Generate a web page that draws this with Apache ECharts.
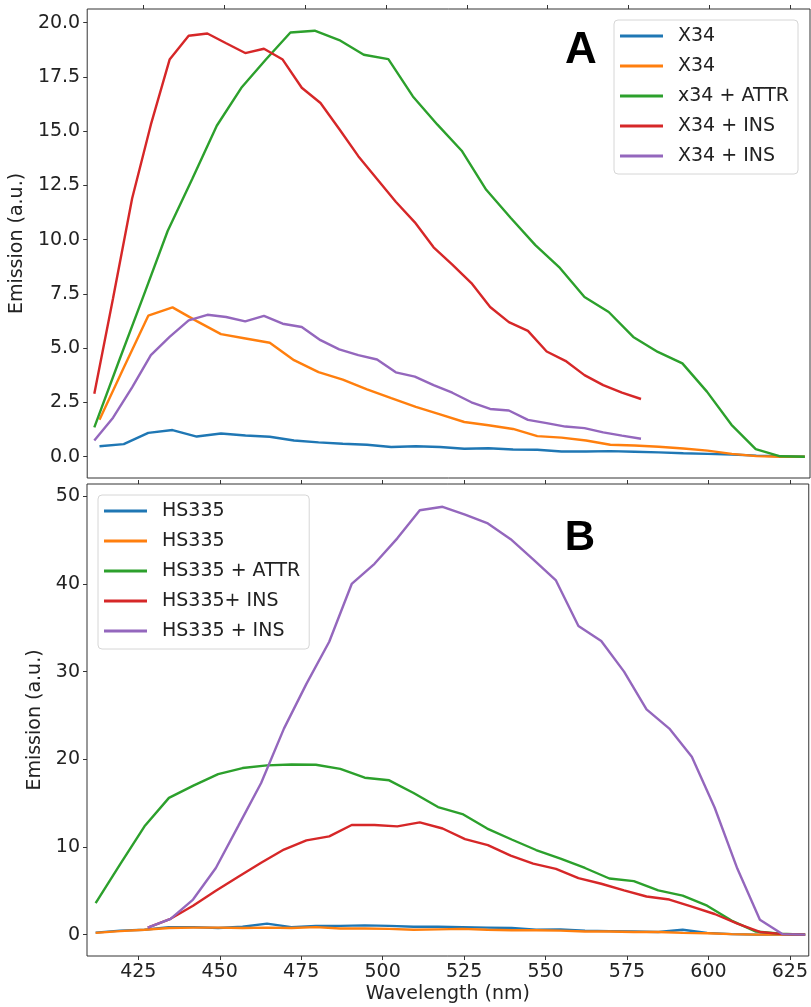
<!DOCTYPE html>
<html lang="en">
<head>
    <meta charset="UTF-8">
    <title>emission spectra</title>
    <style>html, body {margin: 0; padding: 0; background: #fff;}</style>
</head>
<body>
<div id="chart" style="width: 811px;height: 1007px"></div>
<script src="https://cdn.jsdelivr.net/npm/echarts@6/dist/echarts.min.js"></script>
<script>
    // ---- panel A (X34) ----
    const topWlA = [411.3, 418.8, 426.4, 433.9, 441.4, 448.9, 456.5, 464.0, 471.5, 479.1, 486.6, 494.1, 501.6, 509.2, 516.7,
        524.2, 531.7, 539.3, 546.8, 554.3, 561.9, 569.4, 576.9, 584.4, 592.0, 599.5, 607.0, 614.6, 622.1, 629.6]
    const topWlB = [409.7, 417.3, 424.9, 432.4, 440.0, 447.6, 455.2, 462.8, 470.4, 477.9, 485.5, 493.1, 500.7, 508.3, 515.9,
        523.4, 531.0, 538.6, 546.2, 553.8, 561.4, 568.9, 576.5, 584.1, 591.7, 599.3, 606.9, 614.4, 622.0, 629.6]
    const topWlC = [409.7, 415.5, 421.4, 427.2, 433.0, 438.9, 444.7, 450.5, 456.4, 462.2, 468.0, 473.9, 479.7, 485.5, 491.4,
        497.2, 503.0, 508.9, 514.7, 520.5, 526.4, 532.2, 538.0, 543.9, 549.7, 555.5, 561.4, 567.2, 573.0, 578.9]

    const x34Blue = [0.48, 0.58, 1.1, 1.23, 0.93, 1.07, 0.98, 0.92, 0.75, 0.66, 0.6, 0.55, 0.45, 0.48, 0.45,
        0.37, 0.39, 0.33, 0.32, 0.24, 0.24, 0.26, 0.23, 0.2, 0.16, 0.13, 0.1, 0.05, 0.02, 0]
    const x34Orange = [1.7, 4.1, 6.5, 6.88, 6.25, 5.65, 5.45, 5.25, 4.45, 3.9, 3.55, 3.1, 2.7, 2.3, 1.95,
        1.6, 1.45, 1.28, 0.95, 0.88, 0.75, 0.55, 0.52, 0.46, 0.38, 0.28, 0.13, 0.03, 0, 0]
    const x34Attr = [1.35, 4.4, 7.4, 10.4, 12.8, 15.25, 17.0, 18.3, 19.55, 19.63, 19.2, 18.52, 18.32, 16.6, 15.3,
        14.1, 12.3, 11.0, 9.75, 8.7, 7.36, 6.67, 5.52, 4.83, 4.3, 3.0, 1.47, 0.35, 0.02, 0]
    const x34InsRed = [2.9, 7.3, 11.9, 15.3, 18.3, 19.4, 19.5, 19.05, 18.6, 18.8, 18.3, 17.0, 16.3, 15.1, 13.85,
        12.8, 11.75, 10.8, 9.65, 8.85, 8.0, 6.9, 6.2, 5.8, 4.85, 4.42, 3.76, 3.3, 2.95, 2.66]
    const x34InsPurple = [0.75, 1.8, 3.2, 4.68, 5.52, 6.28, 6.54, 6.44, 6.24, 6.49, 6.13, 5.98, 5.37, 4.95, 4.68,
        4.48, 3.89, 3.69, 3.3, 2.95, 2.51, 2.2, 2.13, 1.7, 1.55, 1.39, 1.32, 1.12, 0.97, 0.83]

    // ---- panel B (HS335) ----
    const botWlA = [411.9, 419.4, 426.9, 434.4, 441.9, 449.5, 457.0, 464.5, 472.0, 479.5, 487.0, 494.5, 502.0, 509.5, 517.0,
        524.5, 532.1, 539.6, 547.1, 554.6, 562.1, 569.6, 577.1, 584.6, 592.1, 599.6, 607.1, 614.6, 622.2, 629.7]
    const botWlB = [427.9, 434.9, 441.8, 448.8, 455.7, 462.7, 469.7, 476.6, 483.6, 490.5, 497.5, 504.5, 511.4, 518.4, 525.3,
        532.3, 539.3, 546.2, 553.2, 560.1, 567.1, 574.1, 581.0, 588.0, 594.9, 601.9, 608.9, 615.8, 622.8, 629.7]

    const hsBlue = [0.23, 0.45, 0.55, 0.85, 0.85, 0.75, 0.9, 1.25, 0.85, 1.0, 1.0, 1.05, 1.0, 0.9, 0.9,
        0.85, 0.8, 0.75, 0.55, 0.6, 0.45, 0.4, 0.35, 0.3, 0.55, 0.2, 0.05, 0, 0, 0]
    const hsOrange = [0.2, 0.4, 0.55, 0.75, 0.8, 0.8, 0.75, 0.8, 0.75, 0.85, 0.7, 0.7, 0.65, 0.55, 0.6,
        0.65, 0.55, 0.5, 0.5, 0.45, 0.35, 0.35, 0.3, 0.3, 0.2, 0.15, 0.05, 0, 0, 0]
    const hsAttr = [3.6, 8.0, 12.35, 15.6, 17.0, 18.3, 19.0, 19.3, 19.4, 19.38, 18.9, 17.9, 17.6, 16.15, 14.55,
        13.75, 12.1, 10.85, 9.65, 8.67, 7.6, 6.4, 6.1, 5.05, 4.45, 3.3, 1.6, 0.35, 0.1, 0]
    const hsInsRed = [0.8, 1.8, 3.3, 5.0, 6.6, 8.2, 9.7, 10.75, 11.2, 12.5, 12.5, 12.35, 12.8, 12.1, 10.9,
        10.2, 9.0, 8.1, 7.5, 6.45, 5.8, 5.05, 4.35, 4.0, 3.2, 2.35, 1.25, 0.3, 0.05, 0]
    const hsInsPurple = [0.8, 1.8, 4.0, 7.6, 12.4, 17.3, 23.5, 28.6, 33.4, 40.0, 42.3, 45.2, 48.4, 48.8, 47.9,
        46.9, 45.1, 42.8, 40.4, 35.2, 33.5, 30.0, 25.7, 23.5, 20.3, 14.5, 7.5, 1.7, 0.05, 0]

    const topLabels = ['X34', 'X34', 'x34 + ATTR', 'X34 + INS', 'X34 + INS']
    const botLabels = ['HS335', 'HS335', 'HS335 + ATTR', 'HS335+ INS', 'HS335 + INS']

    const xTicks = [425, 450, 475, 500, 525, 550, 575, 600, 625]
    const yTicksTop = [0, 2.5, 5, 7.5, 10, 12.5, 15, 17.5, 20]
    const yTicksBot = [0, 10, 20, 30, 40, 50]

    const colors = ['#1f77b4', '#ff7f0e', '#2ca02c', '#d62728', '#9467bd']
    const font = 'DejaVu Sans'
    const frame = '#333'
    const textColor = '#222'

    const pairs = (xs, ys) => ys.map((y, i) => [xs[i], y])

    const topData = [pairs(topWlA, x34Blue), pairs(topWlA, x34Orange), pairs(topWlB, x34Attr),
        pairs(topWlC, x34InsRed), pairs(topWlC, x34InsPurple)]
    const botData = [pairs(botWlA, hsBlue), pairs(botWlA, hsOrange), pairs(botWlA, hsAttr),
        pairs(botWlB, hsInsRed), pairs(botWlB, hsInsPurple)]

    // legend needs unique names, real text comes from the label lists
    const nameMap = {}
    const series = []
    topData.forEach((d, i) => {
        nameMap['a' + i] = topLabels[i]
        series.push({
            name: 'a' + i, type: 'line', xAxisIndex: 0, yAxisIndex: 0, data: d,
            symbol: 'none', color: colors[i], lineStyle: {width: 2.4, color: colors[i]}
        })
    })
    botData.forEach((d, i) => {
        nameMap['b' + i] = botLabels[i]
        series.push({
            name: 'b' + i, type: 'line', xAxisIndex: 1, yAxisIndex: 1, data: d,
            symbol: 'none', color: colors[i], lineStyle: {width: 2.4, color: colors[i]}
        })
    })

    const tickStyle = {color: frame, width: 1}
    const noLine = {show: false, onZero: false}
    const legendBase = {
        orient: 'vertical',
        icon: 'rect',
        itemWidth: 43,
        itemHeight: 3,
        itemGap: 10,
        backgroundColor: 'rgba(255,255,255,0.85)',
        borderColor: '#d6d6d6',
        borderWidth: 1,
        borderRadius: 4,
        textStyle: {fontFamily: font, fontSize: 19, color: textColor, lineHeight: 20, padding: [0, 0, 0, 10]},
        formatter: n => nameMap[n]
    }

    const chart = echarts.init(document.getElementById('chart'))
    chart.setOption({
        animation: false,
        backgroundColor: '#fff',
        grid: [
            {left: 86, top: 9, width: 724, height: 469, show: true, borderColor: frame, borderWidth: 1},
            {left: 87, top: 484, width: 722, height: 472, show: true, borderColor: frame, borderWidth: 1}
        ],
        xAxis: [
            {
                gridIndex: 0, type: 'value', position: 'top', min: 407.5, max: 631.2,
                axisLine: noLine, splitLine: {show: false},
                axisTick: {show: true, length: 4, customValues: xTicks, lineStyle: tickStyle},
                axisLabel: {show: false}
            },
            {
                gridIndex: 1, type: 'value', position: 'bottom', min: 409.25, max: 630.8,
                axisLine: noLine, splitLine: {show: false},
                axisTick: {show: true, length: 4, customValues: xTicks, lineStyle: tickStyle},
                axisLabel: {customValues: xTicks, fontFamily: font, fontSize: 19, color: textColor, margin: 7},
                name: 'Wavelength (nm)', nameLocation: 'middle', nameGap: 29,
                nameTextStyle: {fontFamily: font, fontSize: 19, color: textColor}
            },
            {
                gridIndex: 1, type: 'value', position: 'top', min: 409.25, max: 630.8,
                axisLine: noLine, splitLine: {show: false},
                axisTick: {show: true, length: 4, customValues: xTicks, lineStyle: tickStyle},
                axisLabel: {show: false}
            }
        ],
        yAxis: [
            {
                gridIndex: 0, type: 'value', min: -0.98, max: 20.63,
                axisLine: noLine, splitLine: {show: false},
                axisTick: {show: true, length: 4, customValues: yTicksTop, lineStyle: tickStyle},
                axisLabel: {
                    customValues: yTicksTop, fontFamily: font, fontSize: 19, color: textColor, margin: 7,
                    formatter: v => v.toFixed(1)
                },
                name: 'Emission (a.u.)', nameLocation: 'middle', nameGap: 53, nameRotate: 90,
                nameTextStyle: {fontFamily: font, fontSize: 19, color: textColor}
            },
            {
                gridIndex: 1, type: 'value', min: -2.44, max: 51.4,
                axisLine: noLine, splitLine: {show: false},
                axisTick: {show: true, length: 4, customValues: yTicksBot, lineStyle: tickStyle},
                axisLabel: {customValues: yTicksBot, fontFamily: font, fontSize: 19, color: textColor, margin: 7},
                name: 'Emission (a.u.)', nameLocation: 'middle', nameGap: 31, nameRotate: 90,
                nameTextStyle: {fontFamily: font, fontSize: 19, color: textColor}
            }
        ],
        legend: [
            Object.assign({}, legendBase, {data: ['a0', 'a1', 'a2', 'a3', 'a4'], left: 614, top: 20, padding: [6, 9, 8, 6]}),
            Object.assign({}, legendBase, {data: ['b0', 'b1', 'b2', 'b3', 'b4'], left: 98, top: 495, padding: [6, 9, 8, 6]})
        ],
        graphic: [
            {type: 'text', x: 581, y: 51, style: {text: 'A', font: 'bold 44px "Liberation Sans"', fill: '#000', align: 'center', verticalAlign: 'middle'}},
            {type: 'text', x: 580, y: 538, style: {text: 'B', font: 'bold 42px "Liberation Sans"', fill: '#000', align: 'center', verticalAlign: 'middle'}}
        ],
        series: series
    })
</script>
</body>
</html>
